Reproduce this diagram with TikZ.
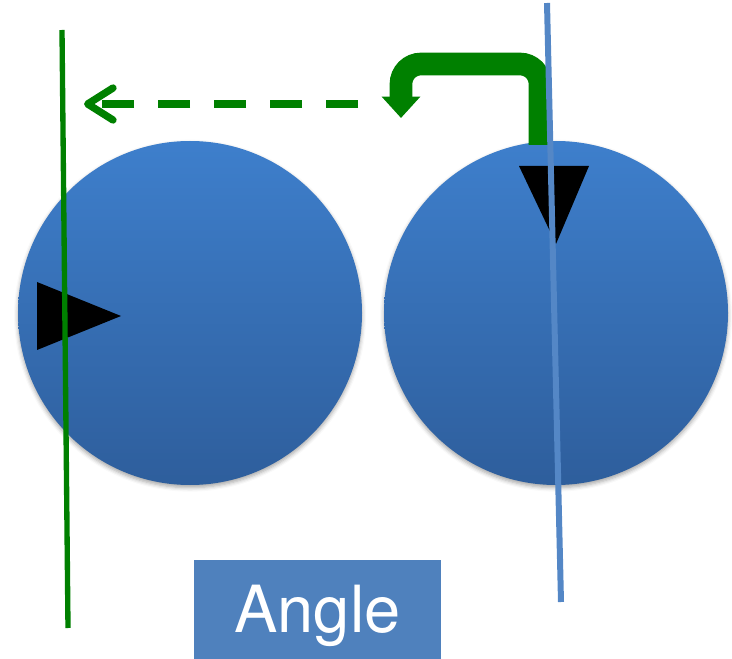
\documentclass[tikz,border=0pt]{standalone}
\usepackage{fontspec}
\setmainfont{TeX Gyre Heros}
\usetikzlibrary{arrows.meta,shadows.blur}
\definecolor{ballTop}{RGB}{62,127,204}
\definecolor{ballBottom}{RGB}{46,94,156}
\definecolor{ruleGreen}{RGB}{0,128,0}
\definecolor{ruleBlue}{RGB}{84,135,198}
\definecolor{labelBlue}{RGB}{79,129,189}

\begin{document}
\begin{tikzpicture}[x=0.75pt, y=-0.75pt,
    ball/.style={circle, minimum size=258pt, inner sep=0pt, top color=ballTop, bottom color=ballBottom,
      blur shadow={shadow xshift=0pt, shadow yshift=-2pt, shadow blur radius=3pt, shadow opacity=35}},
    hook/.style={ruleGreen, line width=17pt, rounded corners=15pt, -{Triangle[width=28pt, length=16pt]}},
    backArrow/.style={ruleGreen, line width=5.5pt, dash pattern=on 24pt off 18pt,
      -{Straight Barb[length=19pt, width=24pt, line cap=round, line join=round]}},
    labelBox/.style={fill=labelBlue, text=white, minimum width=185.25pt, minimum height=74.25pt,
      inner sep=0pt, font=\fontsize{48.75pt}{50pt}\selectfont, text height=35pt, text depth=0pt}]
  \useasboundingbox (0,0) rectangle (732,659);
  % the two balls
  \node[ball] (leftBall)  at (190,313) {};
  \node[ball] (rightBall) at (556,313) {};
  \fill (37,282) -- (37,350) -- (121,316) -- cycle;
  \fill (519,166) -- (589,166) -- (556,244) -- cycle;
  % turn and move back
  \coordinate (hookFoot) at (540,145); \coordinate (hookTop) at (470,64); \coordinate (hookEnd) at (401,118);
  \draw[hook] (hookFoot) |- (hookTop) -| (hookEnd);
  \coordinate (backStart) at (358,104); \coordinate (backEnd) at (84,104);
  \draw[backArrow] (backStart) -- (backEnd);
  % axes
  \draw[ruleGreen, line width=4pt] (62,30) -- (68,628);
  \draw[ruleBlue, line width=4.5pt] (547,3) -- (561,602);
  \node[labelBox] (angleLabel) at (317.5,609.5) {Angle};
\end{tikzpicture}
\end{document}
